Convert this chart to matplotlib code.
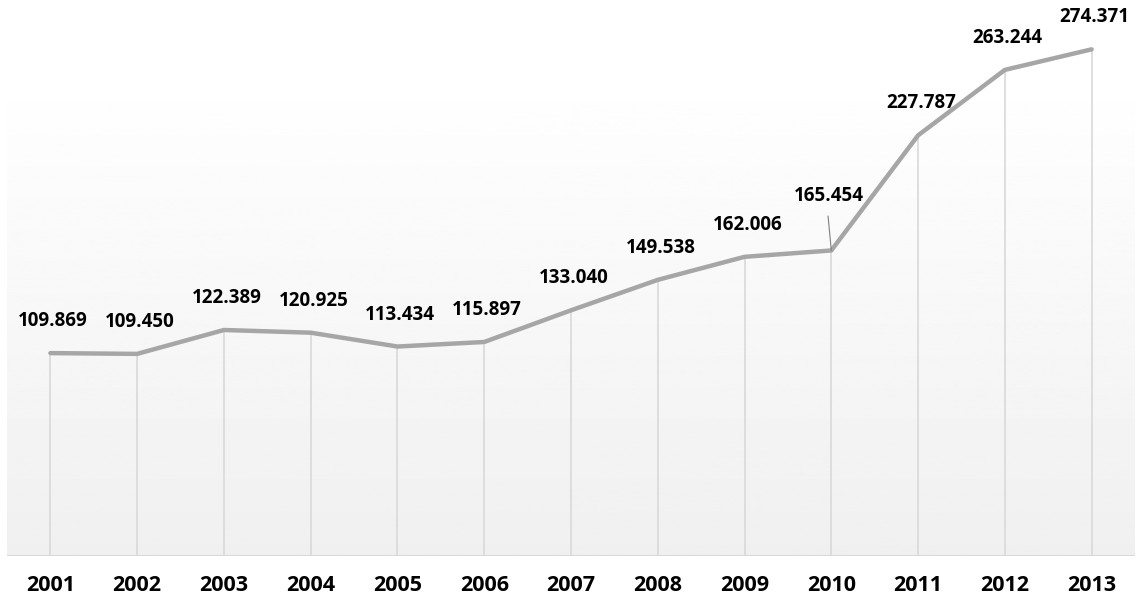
import matplotlib.pyplot as plt
import numpy as np

years = ['2001', '2002', '2003', '2004', '2005', '2006', '2007',
         '2008', '2009', '2010', '2011', '2012', '2013']
values = [109.869, 109.450, 122.389, 120.925, 113.434, 115.897, 133.040,
          149.538, 162.006, 165.454, 227.787, 263.244, 274.371]
labels = ['109.869', '109.450', '122.389', '120.925', '113.434', '115.897', '133.040',
          '149.538', '162.006', '165.454', '227.787', '263.244', '274.371']

plt.rcParams['font.family'] = ['Open Sans', 'DejaVu Sans']

fig = plt.figure(figsize=(11.37, 5.99), dpi=100)
ax = fig.add_axes([7 / 1137, 43 / 599, 1128 / 1137, 554 / 599])

x = np.arange(len(years))
ax.set_xlim(-0.5, len(years) - 0.5)
ax.set_ylim(0, 300)

# soft vertical gradient behind the plot
grad = np.linspace(0.94, 1.0, 256).reshape(-1, 1)
ax.imshow(grad, cmap='gray', vmin=0, vmax=1, aspect='auto', origin='lower',
          extent=(0, 1, 0, 0.872), transform=ax.transAxes, zorder=0)

# drop lines
ax.vlines(x, 0, values, color='#d9d9d9', linewidth=1.2, zorder=1)
ax.axhline(0, color='#d9d9d9', linewidth=1.5, zorder=1)

ax.plot(x, values, color='#a6a6a6', linewidth=3.2, solid_capstyle='round', zorder=3)

for i, (v, lab) in enumerate(zip(values, labels)):
    if years[i] == '2010':
        ax.annotate(lab, xy=(i, v), xytext=(-1.5, 39), textcoords='offset points',
                    ha='center', va='center', fontsize=13.5, fontweight='bold', color='#000000',
                    arrowprops=dict(arrowstyle='-', color='#7f7f7f', lw=0.8,
                                    relpos=(0.47, 0), shrinkA=5, shrinkB=0))
    else:
        ax.annotate(lab, xy=(i, v), xytext=(2, 23), textcoords='offset points',
                    ha='center', va='center', fontsize=13.5, fontweight='bold', color='#000000')

ax.set_xticks(x)
ax.set_xticklabels(years, fontsize=15.5, fontweight='bold')
ax.tick_params(axis='x', length=0, pad=14)
ax.set_yticks([])
for s in ax.spines.values():
    s.set_visible(False)

fig.savefig('out.png', dpi=100, facecolor='white')
